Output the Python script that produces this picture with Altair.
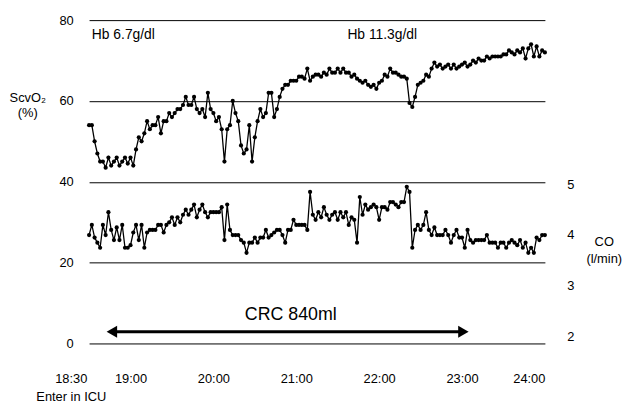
import altair as alt
import pandas as pd

# time in minutes after 18:30, every 2 minutes
minutes = list(range(0, 332, 2))

scvo2 = [54, 54, 50, 47, 45, 45, 43.5, 46, 44, 45,
         46, 44, 45, 46, 44.5, 46, 44, 48, 51, 50,
         52, 55, 53, 54, 54, 56, 52, 55, 55, 57,
         56, 57, 58, 58, 59, 61, 59, 59, 61, 58,
         57, 58, 56, 62, 58, 57, 55, 56, 53, 45,
         53, 54, 60, 57, 55, 49, 47, 48, 54, 45,
         51, 55, 58, 56, 57, 62, 62, 56, 58, 61,
         63, 64, 64, 65, 65, 65, 66, 66, 65.5, 68,
         65, 66, 66.5, 66.5, 66, 67, 66.5, 68, 67, 67,
         68, 67, 68, 67, 67, 66, 66.5, 65.5, 65, 64.5,
         65, 64, 63.5, 64, 63, 64.5, 65, 66.5, 66, 68,
         67, 67, 66.5, 66, 66, 65.5, 59.5, 58.5, 61, 64,
         64.5, 65, 66.5, 66, 68, 69.5, 68.5, 69, 68, 68.5,
         69, 68, 69, 68, 68.5, 69, 69.5, 68.5, 69, 70,
         69.5, 70.5, 70, 70, 71, 70.5, 71, 71, 71, 71,
         71.5, 71.5, 72.5, 72, 71.5, 72.5, 72, 73, 70.5, 73,
         74, 71, 73.5, 71, 72.5, 72]

co = [4.0, 4.2, 3.95, 3.85, 3.75, 4.2, 4.0, 4.45, 4.1, 3.9,
      4.15, 3.9, 4.2, 3.75, 3.75, 3.8, 4.05, 4.2, 3.9, 4.2,
      3.75, 4.05, 4.1, 4.1, 4.1, 4.2, 4.2, 4.05, 4.2, 4.25,
      4.35, 4.2, 4.35, 4.25, 4.4, 4.5, 4.4, 4.5, 4.6, 4.35,
      4.5, 4.6, 4.45, 4.35, 4.45, 4.45, 4.45, 4.45, 4.55, 3.9,
      4.6, 4.1, 4.0, 4.0, 4.0, 3.9, 3.85, 3.65, 3.85, 3.85,
      3.95, 3.85, 3.95, 3.95, 4.1, 3.95, 4.0, 4.05, 4.1, 4.1,
      4.0, 3.85, 4.1, 4.1, 4.3, 4.2, 4.2, 4.2, 4.2, 4.1,
      4.85, 4.4, 4.3, 4.45, 4.35, 4.55, 4.4, 4.3, 4.4, 4.45,
      4.3, 4.45, 4.35, 4.45, 4.2, 4.35, 4.3, 3.85, 4.75, 4.4,
      4.6, 4.5, 4.55, 4.6, 4.55, 4.3, 4.55, 4.55, 4.5, 4.65,
      4.65, 4.6, 4.55, 4.65, 4.65, 4.95, 4.85, 3.75, 4.1, 4.2,
      4.1, 4.2, 4.45, 4.1, 4.0, 4.15, 4.0, 4.0, 4.0, 4.1,
      4.0, 3.85, 4.0, 4.1, 3.95, 3.95, 3.75, 4.1, 3.9, 3.85,
      3.9, 3.9, 3.9, 3.9, 4.0, 3.85, 3.85, 3.85, 3.75, 3.85,
      3.85, 3.75, 3.85, 3.9, 3.85, 3.8, 3.9, 3.75, 3.85, 3.65,
      3.75, 3.65, 3.95, 3.9, 4.0, 4.0]

hour_ticks = [30, 90, 150, 210, 270, 330]
left_ticks = [0, 20, 40, 60, 80]
right_ticks = [2, 3, 4, 5]

hb_labels = ["Hb 6.7g/dl", "Hb 11.3g/dl"]
hb_t = [2, 187]
hb_y = [76.3, 76.3]

crc_label = "CRC 840ml"
crc_t = 146
crc_y = 7.1
arrow_t = [16.5, 271]
arrow_y = 2.9

FONT = "Liberation Sans"

df = pd.DataFrame({"t": minutes, "scvo2": scvo2, "co": co})

xscale = alt.Scale(domain=[0, 330], nice=False, zero=False)
x_axis = alt.Axis(values=hour_ticks,
                  labelExpr="floor((datum.value + 1110) / 60) + ':00'",
                  grid=False, domain=False, ticks=False,
                  labelPadding=29, labelFontSize=13, labelColor="black",
                  labelFont=FONT, title=None)
lscale = alt.Scale(domain=[0, 80], nice=False, zero=False)
l_axis = alt.Axis(values=left_ticks, grid=True, gridColor="black",
                  gridWidth=1, gridOpacity=1, domain=False, ticks=False,
                  labelPadding=16, labelFontSize=13, labelColor="black",
                  labelFont=FONT, title=None)
rscale = alt.Scale(domain=[1.864, 8.235], nice=False, zero=False)
r_axis = alt.Axis(orient="right", values=right_ticks, grid=False,
                  domain=False, ticks=False, labelPadding=22,
                  labelFontSize=13, labelColor="black", labelFont=FONT,
                  labelAlign="left", title=None)


def X(field):
    return alt.X(field, scale=xscale, axis=x_axis, title=None)


def YL(field):
    return alt.Y(field, scale=lscale, axis=l_axis, title=None)


base = alt.Chart(df)
scv = base.mark_line(color="black", strokeWidth=1.3,
                     point=alt.OverlayMarkDef(filled=True, color="black", size=18)
                     ).encode(x=X("t:Q"), y=YL("scvo2:Q"))

hb_df = pd.DataFrame({"label": hb_labels, "t": hb_t, "y": hb_y})
hb_text = alt.Chart(hb_df).mark_text(align="left", baseline="middle", fontSize=14,
                                      font=FONT, color="black").encode(
    x=X("t:Q"), y=YL("y:Q"), text="label:N")

crc_df = pd.DataFrame({"label": [crc_label], "t": [crc_t], "y": [crc_y]})
crc_text = alt.Chart(crc_df).mark_text(align="center", baseline="middle", fontSize=18,
                                        font=FONT, color="black").encode(
    x=X("t:Q"), y=YL("y:Q"), text="label:N")

arr_df = pd.DataFrame({"t": [arrow_t[0]], "t2": [arrow_t[1]], "y": [arrow_y]})
arrow_rule = alt.Chart(arr_df).mark_rule(color="black", strokeWidth=3).encode(
    x=X("t:Q"), x2="t2:Q", y=YL("y:Q"))
head_df = pd.DataFrame({"t": arrow_t, "y": [arrow_y, arrow_y],
                        "shape": ["triangle-left", "triangle-right"]})
arrow_heads = alt.Chart(head_df).mark_point(filled=True, color="black", opacity=1,
                                             size=150).encode(
    x=X("t:Q"), y=YL("y:Q"),
    shape=alt.Shape("shape:N", scale=None, legend=None))

# labels outside the plot area
out_df = pd.DataFrame({
    "label": ["ScvO\u2082", "(%)", "CO", "(l/min)", "18:30", "Enter in ICU"],
    "px": [-62, -62, 521, 521, -18, -18],
    "py": [79, 94, 224, 242, 363, 381],
})
out_text = alt.Chart(out_df).mark_text(align="center", baseline="middle", fontSize=13,
                                        font=FONT, color="black").encode(
    x=alt.X("px:Q", scale=None), y=alt.Y("py:Q", scale=None),
    text="label:N")

left = alt.layer(scv, hb_text, crc_text, arrow_rule, arrow_heads, out_text)

co_chart = base.mark_line(color="black", strokeWidth=1.3,
                          point=alt.OverlayMarkDef(filled=True, color="black", size=18)
                          ).encode(
    x=X("t:Q"), y=alt.Y("co:Q", scale=rscale, axis=r_axis, title=None))

chart = alt.layer(left, co_chart).resolve_scale(y="independent").properties(
    width=461, height=327,
    autosize=alt.AutoSizeParams(type="none"),
    padding={"left": 82, "top": 10, "right": 80, "bottom": 60},
    background="white",
).configure(font=FONT).configure_view(strokeWidth=0)

chart.save("out.html", embed_options={"renderer": "svg", "actions": False})
